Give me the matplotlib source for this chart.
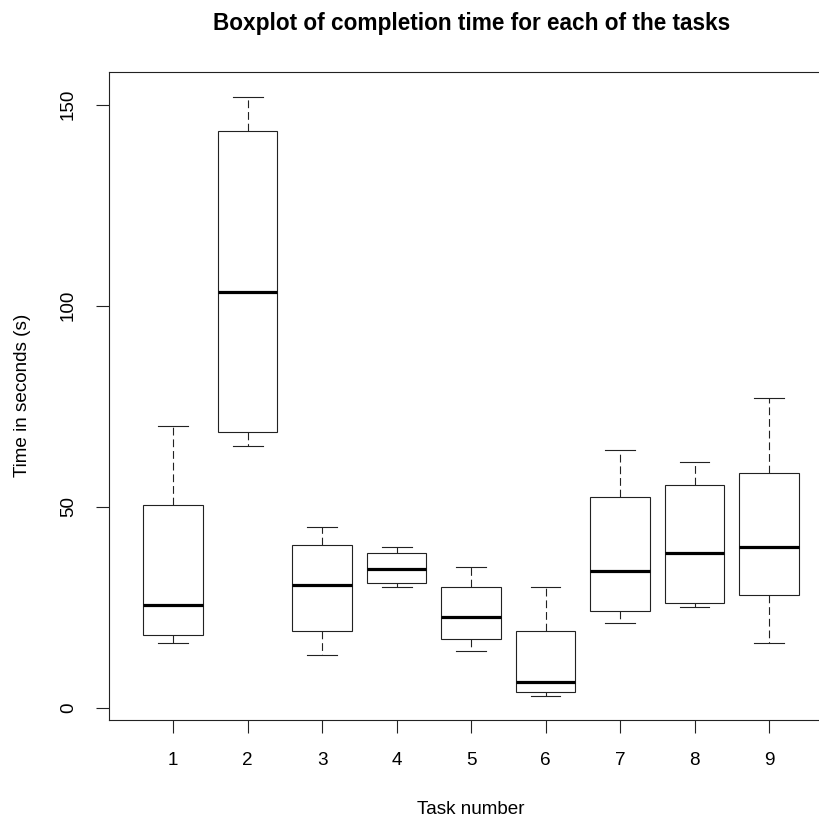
import matplotlib
matplotlib.use("Agg")
import matplotlib.pyplot as plt

tasks = [1, 2, 3, 4, 5, 6, 7, 8, 9]
whisker_low = [16, 65, 13, 30, 14, 3, 21, 25, 16]
q1 = [18, 68.5, 19, 31, 17, 4, 24, 26, 28]
medians = [25.5, 103.5, 30.5, 34.5, 22.5, 6.5, 34, 38.5, 40]
q3 = [50.5, 143.5, 40.5, 38.5, 30, 19, 52.5, 55.5, 58.5]
whisker_high = [70, 152, 45, 40, 35, 30, 64, 61, 77]
y_ticks = [0, 50, 100, 150]

plt.rcParams['font.family'] = ['Liberation Sans', 'DejaVu Sans']

fig = plt.figure(figsize=(8.2, 8.19), dpi=100)
ax = fig.add_axes([109.3 / 820, 1 - 719.7 / 819, (832.9 - 109.3) / 820, (719.7 - 72) / 819])

stats = []
for t, lo, a, m, b, hi in zip(tasks, whisker_low, q1, medians, q3, whisker_high):
    stats.append(dict(label=str(t), whislo=lo, q1=a, med=m, q3=b, whishi=hi, fliers=[]))

lw = 0.8
ax.bxp(stats, positions=tasks, widths=0.8, showfliers=False, patch_artist=True,
       boxprops=dict(facecolor='white', edgecolor='#222222', linewidth=lw),
       medianprops=dict(color='black', linewidth=2.3, solid_capstyle='butt'),
       whiskerprops=dict(color='#222222', linewidth=lw, linestyle=(0, (7, 3.5))),
       capprops=dict(color='#222222', linewidth=lw),
       capwidths=0.4)

ax.set_xlim(0.143, 9.857)
ax.set_ylim(-2.97, 158.1)
ax.set_xticks(tasks)
ax.set_xticklabels([str(t) for t in tasks])
ax.set_yticks(y_ticks)
ax.set_yticklabels([str(v) for v in y_ticks], rotation=90, va='center')

for s in ax.spines.values():
    s.set_linewidth(lw)
    s.set_color('#222222')

ax.tick_params(axis='both', length=9.4, width=lw, color='#222222', labelsize=13.6)
ax.tick_params(axis='x', pad=13.5)
ax.tick_params(axis='y', pad=14)

ax.set_xlabel('Task number', fontsize=13.6, labelpad=23.5)
ax.set_ylabel('Time in seconds (s)', fontsize=13.6, labelpad=20.5)
ax.set_title('Boxplot of completion time for each of the tasks', fontsize=16.3,
             fontweight='bold', pad=30)

fig.savefig('out.png', dpi=100)
